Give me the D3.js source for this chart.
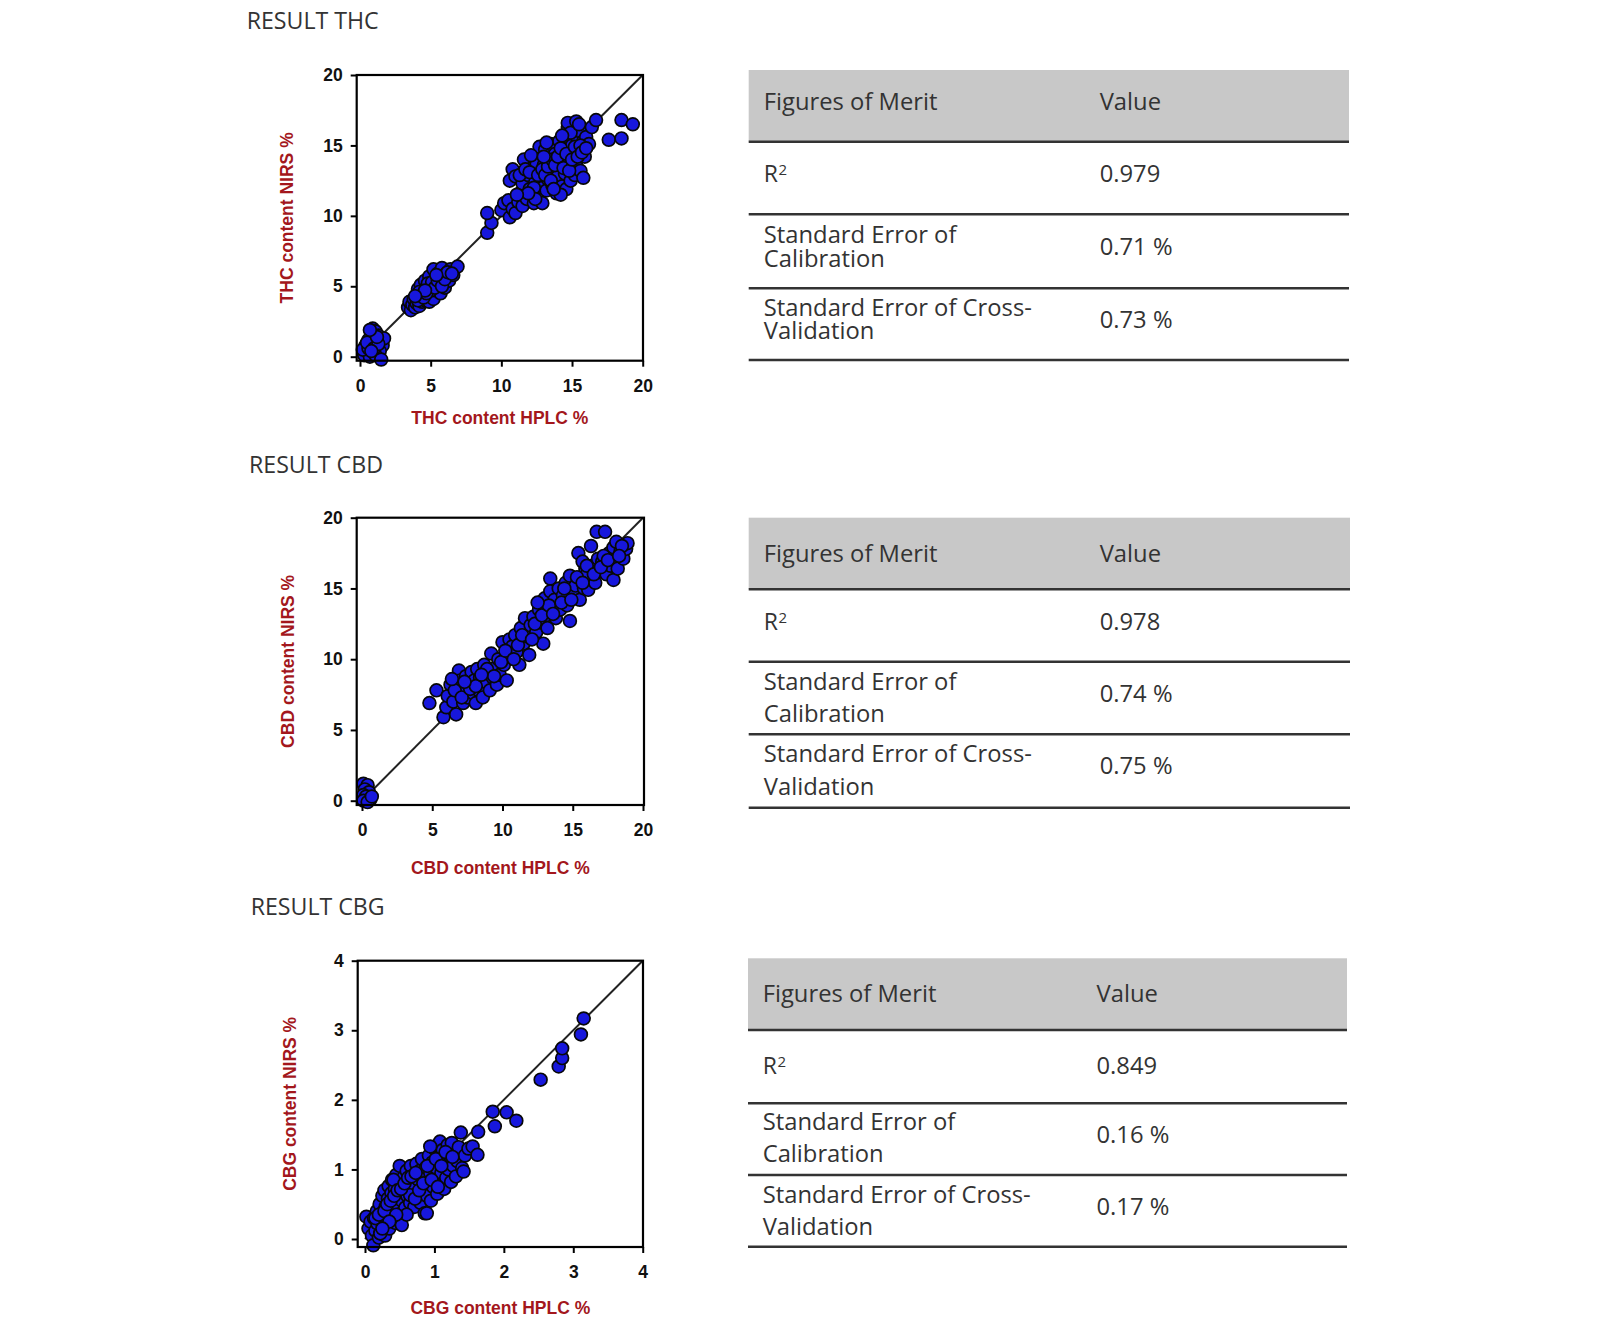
<!DOCTYPE html>
<html><head><meta charset="utf-8">
<script src="https://cdn.jsdelivr.net/npm/d3@7"></script>
<style>
html,body{margin:0;padding:0;background:#fff;}
svg{display:block;}
</style></head><body>
<svg id="chart" width="1600" height="1340"></svg>
<script>
// ---------- DATA ----------
const thcPoints = [
 [0.9,2.0],[0.8,1.6],[1.1,1.8],[1.3,1.5],[0.6,1.2],[1.0,1.2],[1.5,1.1],[1.6,0.8],[0.4,0.8],[0.7,0.7],[1.2,0.6],
 [0.5,0.3],[0.9,0.3],[1.4,0.4],[0.3,0.1],[0.7,0.0],[1.1,0.1],[1.5,-0.2],[0.2,0.5],[1.7,1.3],[0.6,0.6],
 [0.8,1.0],[1.2,1.1],[0.5,1.0],[1.0,0.6],[1.3,0.9],[0.8,0.4],[1.2,1.4],[0.7,1.9],
 [3.4,3.5],[3.5,3.9],[3.6,3.3],[3.7,3.7],[3.8,4.1],[3.9,3.5],[4.0,4.4],[4.0,3.8],[4.1,4.8],[4.2,3.6],[4.3,4.2],
 [4.3,5.1],[4.4,3.9],[4.5,4.6],[4.6,5.4],[4.6,4.0],[4.7,4.9],[4.8,4.3],[4.9,5.7],[4.9,3.9],[5.0,5.0],[5.1,4.5],
 [5.2,6.2],[5.2,4.1],[5.3,5.4],[5.4,4.7],[5.5,5.9],[5.6,5.1],[5.7,4.5],[5.8,6.3],[5.9,5.5],[6.0,4.9],[6.1,5.9],
 [6.3,5.4],[6.4,6.2],[6.6,5.8],[6.9,6.4],[4.1,4.0],[4.4,4.4],[5.0,4.7],
 [4.2,4.6],[4.5,4.2],[4.7,4.5],[4.8,5.2],[5.1,5.3],[5.3,4.9],[5.5,5.4],[5.7,5.7],[5.8,5.0],[6.0,5.5],[6.2,6.0],
 [4.6,4.7],[3.9,4.3],[5.4,5.8],[6.5,5.9],
 [9.0,8.8],[9.3,9.5],[9.0,10.2],[10.0,10.4],[10.2,10.9],[10.6,9.9],[10.5,11.1],[10.8,10.5],[11.0,10.2],[11.2,11.0],
 [10.6,12.5],[10.8,13.3],[11.0,12.8],[11.3,11.6],[11.5,10.7],[11.6,14.0],[11.5,12.3],[11.8,11.2],[11.9,12.9],
 [12.0,11.9],[12.2,13.4],[12.3,10.9],[12.5,13.7],[12.4,12.4],[12.6,11.6],[12.7,14.9],[12.8,12.9],[12.9,12.0],
 [13.1,14.7],[13.0,13.6],[13.2,11.8],[13.3,12.6],[13.4,13.9],[13.5,15.1],[13.6,12.2],[13.7,13.2],[13.8,14.4],
 [13.9,11.6],[14.0,12.8],[14.1,15.3],[14.2,13.6],[14.3,12.1],[14.4,14.7],[14.5,13.0],[14.6,15.6],[14.6,11.9],
 [14.7,16.3],[14.7,16.6],[14.8,14.1],[14.9,12.5],[15.0,13.4],[15.0,15.0],[15.1,14.4],[15.2,12.9],[15.3,16.7],
 [15.3,13.9],[15.4,15.4],[15.5,14.7],[15.6,13.2],[15.7,15.9],[15.8,15.3],[15.8,12.7],[15.9,14.2],[16.0,15.6],
 [16.2,15.1],[16.4,16.3],[16.7,16.8],[17.6,15.4],[18.5,15.5],[18.5,16.8],[19.3,16.5],[12.1,14.3],[13.2,15.2],
 [14.2,11.5],[12.9,10.9],
 [11.3,12.9],[11.7,13.3],[12.0,13.1],[12.3,12.0],[12.6,12.9],[12.9,13.3],[13.1,12.9],[13.3,13.5],[13.6,14.0],
 [13.8,13.6],[14.0,14.2],[14.2,14.8],[14.4,13.4],[14.6,14.4],[14.8,13.2],[15.0,14.0],[15.2,14.9],[15.4,14.2],
 [15.6,15.0],[15.7,14.5],[13.5,12.5],[14.9,15.9],[15.5,16.5],[14.3,15.7],[12.4,11.2],[11.9,11.6],[11.1,11.5],
 [13.0,14.2],[16.0,14.8],[13.7,11.9]
];
const cbdPoints = [
 [0.1,1.2],[0.4,1.1],[0.2,0.8],[0.5,0.6],[0.1,0.4],[0.3,0.3],[0.6,0.1],[0.1,0.0],[0.4,-0.1],[0.7,0.3],
 [4.8,6.9],[5.3,7.8],[5.8,5.9],[6.0,6.6],[6.1,7.4],[6.3,8.2],[6.5,7.0],[6.7,6.1],[6.9,9.2],[6.9,7.7],[7.0,8.5],
 [7.2,6.9],[7.3,7.9],[7.4,8.8],[7.5,7.3],[7.6,8.2],[7.8,9.1],[7.9,7.6],[8.0,8.5],[8.1,6.9],[8.2,9.3],[8.3,7.8],
 [8.4,8.7],[8.5,8.0],[8.6,7.3],[8.7,9.6],[8.8,8.4],[9.0,9.0],[9.1,7.8],[9.2,10.4],[9.3,8.7],[9.5,9.4],[9.6,8.2],
 [9.7,10.0],[9.8,8.9],[10.0,11.2],[10.1,9.6],[10.3,8.5],[10.4,10.2],[10.5,11.4],[10.7,10.9],[10.9,11.7],[11.0,10.5],
 [11.2,9.6],[11.3,12.2],[11.5,11.1],[11.6,12.9],[11.8,11.6],[11.9,10.3],[12.0,12.4],[12.2,13.0],[12.4,11.9],
 [12.6,13.5],[12.7,12.6],[12.9,11.1],[13.0,14.3],[13.1,13.1],[13.2,12.2],[13.4,15.7],[13.4,14.8],[13.5,13.7],
 [13.7,14.2],[13.8,12.9],[14.0,15.0],[14.1,13.5],[14.3,14.5],[14.5,15.4],[14.6,13.8],[14.8,12.7],[14.8,15.9],
 [15.0,14.6],[15.2,15.2],[15.4,17.5],[15.5,14.2],[15.6,15.8],[15.8,15.0],[15.9,16.4],[16.1,14.9],[16.2,15.7],
 [16.3,18.0],[16.4,16.6],[16.6,15.4],[16.7,19.0],[16.8,17.1],[16.9,16.2],[17.1,16.9],[17.3,19.0],[17.4,16.0],
 [17.6,17.5],[17.7,16.6],[17.9,15.6],[17.9,17.9],[18.0,17.0],[18.1,18.3],[18.2,16.4],[18.4,17.6],[18.6,17.1],
 [18.8,17.8],[18.9,18.2],[18.5,18.0],[16.0,16.0],[15.7,16.9],[17.2,17.3],
 [6.6,7.8],[7.1,7.3],[7.7,7.9],[8.1,8.1],[8.9,9.3],[9.4,8.8],[9.9,9.8],[10.2,10.6],[10.8,10.0],[11.1,11.0],
 [11.4,11.7],[12.1,11.4],[12.3,12.5],[12.8,13.1],[13.3,13.8],[13.6,13.2],[14.2,14.0],[14.4,15.0],[14.9,14.2],
 [15.3,15.8],[15.7,15.4],[16.0,16.6],[16.5,16.0],[17.0,16.5],[17.5,17.0],[18.3,17.3],[6.4,8.6],[7.3,8.4],
 [8.5,8.9],[12.5,14.0]
];
const cbgPoints = [
 [0.02,0.32],[0.05,0.15],[0.08,0.25],[0.10,0.05],[0.12,-0.09],[0.13,0.30],[0.15,0.12],[0.17,0.40],[0.18,0.22],
 [0.20,0.02],[0.21,0.50],[0.22,0.08],[0.23,0.33],[0.25,0.62],[0.26,0.18],[0.26,0.39],[0.28,0.70],[0.29,0.05],
 [0.30,0.47],[0.31,0.28],[0.33,0.58],[0.34,0.76],[0.35,0.15],[0.36,0.41],[0.38,0.66],[0.39,0.85],[0.40,0.30],
 [0.41,0.52],[0.43,0.72],[0.44,0.23],[0.45,0.92],[0.46,0.44],[0.48,0.62],[0.49,0.80],[0.50,1.05],[0.51,0.36],
 [0.53,0.20],[0.53,0.55],[0.55,0.88],[0.56,0.70],[0.58,0.45],[0.60,0.98],[0.61,0.62],[0.63,0.80],[0.65,0.52],
 [0.66,1.05],[0.68,0.70],[0.70,0.90],[0.71,0.46],[0.72,0.75],[0.74,1.08],[0.75,0.60],[0.77,0.85],[0.79,0.98],
 [0.80,0.52],[0.82,1.15],[0.83,0.72],[0.85,0.90],[0.86,0.37],[0.88,1.03],[0.89,0.62],[0.91,0.80],[0.92,1.20],
 [0.94,0.95],[0.95,0.55],[0.97,1.10],[0.98,0.75],[1.00,1.30],[1.01,0.88],[1.03,1.02],[1.04,0.65],[1.06,1.18],
 [1.08,0.80],[1.08,1.40],[1.10,0.95],[1.12,1.28],[1.14,0.72],[1.15,1.10],[1.17,0.88],[1.19,1.35],[1.20,1.00],
 [1.22,1.20],[1.24,0.82],[1.25,1.38],[1.27,1.05],[1.30,1.22],[1.31,0.90],[1.33,1.12],[1.35,1.32],[1.38,1.53],
 [1.40,1.02],[1.42,0.97],[1.44,1.20],[1.49,1.30],[1.55,1.33],[1.62,1.21],[1.63,1.54],[1.84,1.83],[1.87,1.62],
 [2.04,1.82],[2.18,1.70],[2.53,2.29],[2.79,2.48],[2.84,2.60],[2.84,2.74],[3.11,2.94],[3.15,3.17],[0.94,1.33],
 [0.41,0.85],[0.22,0.08],[0.65,0.63],[0.72,0.58],[0.89,0.37],
 [0.15,0.30],[0.20,0.35],[0.28,0.40],[0.32,0.50],[0.37,0.55],[0.42,0.62],[0.47,0.70],[0.52,0.72],[0.57,0.80],
 [0.62,0.88],[0.67,0.90],[0.73,0.95],[0.78,0.70],[0.84,0.80],[0.90,1.05],[0.96,0.85],[1.02,1.15],[1.10,1.05],
 [1.16,1.25],[1.26,1.18],[0.60,0.35],[0.45,0.35],[0.35,0.25],[1.05,0.75],[0.25,0.15]
];
const thcTicks = [0,5,10,15,20];
const cbdTicks = [0,5,10,15,20];
const cbgTicks = [0,1,2,3,4];
const sectionTitles = ["RESULT THC","RESULT CBD","RESULT CBG"];
const xTitles = ["THC content HPLC %","CBD content HPLC %","CBG content HPLC %"];
const yTitles = ["THC content NIRS %","CBD content NIRS %","CBG content NIRS %"];
const tableHeader = ["Figures of Merit","Value"];
const meritRow2 = ["Standard Error of","Calibration"];
const meritRow3 = ["Standard Error of Cross-","Validation"];
const thcMerit = ["0.979","0.71 %","0.73 %"];
const cbdMerit = ["0.978","0.74 %","0.75 %"];
const cbgMerit = ["0.849","0.16 %","0.17 %"];

// ---------- LAYOUT ----------
const layouts = [
 {titleX:246.7,titleY:29.3, fl:356.7,fr:643,ft:75,fb:360.7, x0:360,x1:642.7,y0:356.7,y1:75, yTitleX:287,xTitleY:418,
  tl:748.7,tr:1349,tt:70,lines:[141.7,214.3,288.3,360],tx:763.8,vx:1099.7,headBase:110,r2Base:181.7,
  seBase:[243.3,267.3],seVal:255,cvBase:[316,339.3],cvVal:327.7},
 {titleX:249,titleY:473.3, fl:356.7,fr:644,ft:517.7,fb:805, x0:362,x1:643,y0:800.7,y1:517.7, yTitleX:288,xTitleY:867.7,
  tl:748.7,tr:1350,tt:517.7,lines:[589.3,661.7,734.3,807.7],tx:763.8,vx:1099.7,headBase:561.7,r2Base:630,
  seBase:[690,722.3],seVal:702.3,cvBase:[762.3,795],cvVal:774.3},
 {titleX:250.7,titleY:915, fl:357.7,fr:643,ft:960.7,fb:1247, x0:365,x1:642.7,y0:1239,y1:960.7, yTitleX:290,xTitleY:1308,
  tl:748,tr:1347,tt:958.3,lines:[1030,1103.3,1175,1246.7],tx:762.7,vx:1096.5,headBase:1002.3,r2Base:1074,
  seBase:[1130,1162.3],seVal:1142.7,cvBase:[1202.7,1235],cvVal:1215}
];

const panels = [
 {pts:thcPoints, ticks:thcTicks, merit:thcMerit},
 {pts:cbdPoints, ticks:cbdTicks, merit:cbdMerit},
 {pts:cbgPoints, ticks:cbgTicks, merit:cbgMerit}
];

const svg = d3.select("#chart");
const TEXT_FONT = "'Open Sans', 'Noto Sans', sans-serif";
const AXIS_FONT = "'Liberation Sans', Arial, sans-serif";
const TEXT_COLOR = "#333333";
const RED = "#a3171c";
const BLUE = "#1717dc";

function condensed(sel, k) {
  sel.each(function(){
    const w = this.getComputedTextLength();
    d3.select(this).attr("textLength", w * k).attr("lengthAdjust", "spacingAndGlyphs");
  });
  return sel;
}

const probe = svg.append("text").attr("font-family", TEXT_FONT).attr("font-size", 23).text(tableHeader[0]);
const tableK = 173.7 / probe.node().getComputedTextLength();
probe.attr("font-size", 24.5).text(sectionTitles[0]);
const titleK = 132 / probe.node().getComputedTextLength();
probe.remove();

panels.forEach((p, i) => {
  const L = layouts[i];
  const max = p.ticks[p.ticks.length - 1];
  const x = d3.scaleLinear().domain([0, max]).range([L.x0, L.x1]);
  const y = d3.scaleLinear().domain([0, max]).range([L.y0, L.y1]);
  const g = svg.append("g");

  condensed(g.append("text").attr("x", L.titleX).attr("y", L.titleY)
    .attr("font-family", TEXT_FONT).attr("font-size", 24.5).attr("fill", TEXT_COLOR)
    .text(sectionTitles[i]), titleK);

  g.append("line")
    .attr("x1", x(0)).attr("y1", y(0)).attr("x2", x(max)).attr("y2", y(max))
    .attr("stroke", "#222").attr("stroke-width", 2);

  g.append("g").selectAll("circle").data(p.pts).join("circle")
    .attr("cx", d => x(d[0])).attr("cy", d => y(d[1])).attr("r", 6.4)
    .attr("fill", BLUE).attr("stroke", "#080808").attr("stroke-width", 1.7);

  g.append("rect").attr("x", L.fl).attr("y", L.ft).attr("width", L.fr - L.fl).attr("height", L.fb - L.ft)
    .attr("fill", "none").attr("stroke", "#000").attr("stroke-width", 2.2);

  const xa = g.append("g").attr("transform", `translate(0,${L.fb})`)
    .call(d3.axisBottom(x).tickValues(p.ticks).tickSize(6).tickPadding(13).tickFormat(d3.format("d")));
  const ya = g.append("g").attr("transform", `translate(${L.fl},0)`)
    .call(d3.axisLeft(y).tickValues(p.ticks).tickSize(6).tickPadding(8).tickFormat(d3.format("d")));
  [xa, ya].forEach(a => {
    a.select(".domain").remove();
    a.selectAll(".tick line").attr("stroke", "#000").attr("stroke-width", 2);
    a.selectAll(".tick text").attr("font-family", AXIS_FONT).attr("font-weight", "bold")
      .attr("font-size", 17.5).attr("fill", "#111");
  });

  g.append("text").attr("x", (L.fl + L.fr) / 2).attr("y", L.xTitleY).attr("dy", "0.35em")
    .attr("text-anchor", "middle").attr("font-family", AXIS_FONT).attr("font-weight", "bold")
    .attr("font-size", 17.5).attr("fill", RED).text(xTitles[i]);
  g.append("text").attr("transform", `translate(${L.yTitleX},${(L.ft + L.fb) / 2}) rotate(-90)`)
    .attr("dy", "0.35em").attr("text-anchor", "middle").attr("font-family", AXIS_FONT)
    .attr("font-weight", "bold").attr("font-size", 17.5).attr("fill", RED).text(yTitles[i]);

  // table
  const t = svg.append("g");
  t.append("rect").attr("x", L.tl).attr("y", L.tt).attr("width", L.tr - L.tl).attr("height", L.lines[0] - L.tt)
    .attr("fill", "#c8c8c8");
  t.selectAll("line").data(L.lines).join("line")
    .attr("x1", L.tl).attr("x2", L.tr).attr("y1", d => d).attr("y2", d => d)
    .attr("stroke", "#333").attr("stroke-width", 2.4);
  const txt = (xx, yy, s) => condensed(t.append("text").attr("x", xx).attr("y", yy)
      .attr("font-family", TEXT_FONT).attr("font-size", 23).attr("fill", TEXT_COLOR).text(s), tableK);
  const txt2 = (xx, yys, ss) => {
    const el = t.append("text").attr("font-family", TEXT_FONT).attr("font-size", 23).attr("fill", TEXT_COLOR);
    ss.forEach((s, k) => {
      condensed(el.append("tspan").attr("x", xx).attr("y", yys[k]).text(s), tableK);
    });
  };
  txt(L.tx, L.headBase, tableHeader[0]);
  txt(L.vx, L.headBase, tableHeader[1]);
  const r2 = t.append("text").attr("x", L.tx).attr("y", L.r2Base)
    .attr("font-family", TEXT_FONT).attr("font-size", 23).attr("fill", TEXT_COLOR);
  r2.append("tspan").text("R");
  r2.append("tspan").attr("font-size", 15).attr("dy", -7).attr("dx", 0.5).text("2");
  txt(L.vx, L.r2Base, p.merit[0]);
  txt2(L.tx, L.seBase, meritRow2);
  txt(L.vx, L.seVal, p.merit[1]);
  txt2(L.tx, L.cvBase, meritRow3);
  txt(L.vx, L.cvVal, p.merit[2]);
});
</script>
</body></html>
